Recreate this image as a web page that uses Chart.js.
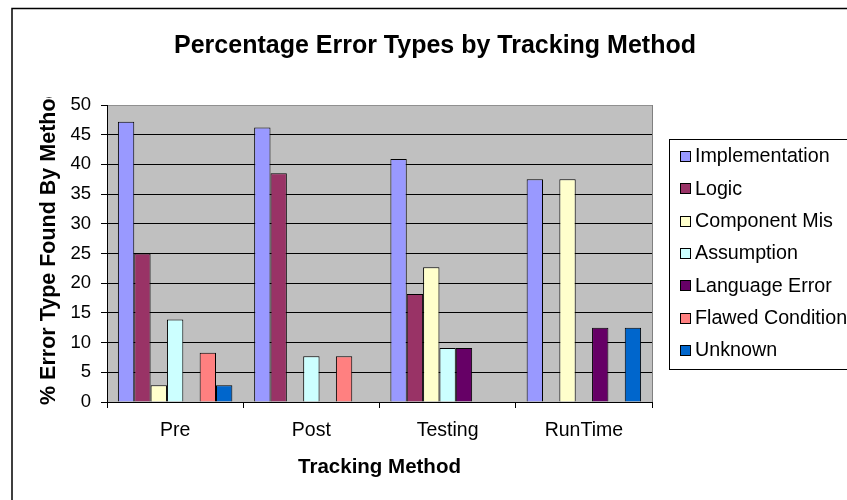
<!DOCTYPE html>
<html><head><meta charset="utf-8">
<script src="https://cdn.jsdelivr.net/npm/chart.js@4/dist/chart.umd.min.js"></script>
<style>html,body{margin:0;padding:0;background:#fff;overflow:hidden}canvas{display:block}</style>
</head><body>
<canvas id="c" width="847" height="500"></canvas>
<script>
const chartTitle = 'Percentage Error Types by Tracking Method';
const xAxisTitle = 'Tracking Method';
const yAxisTitle = '% Error Type Found By Method';
const categories = ['Pre', 'Post', 'Testing', 'RunTime'];
const seriesNames = ['Implementation', 'Logic', 'Component Mis', 'Assumption', 'Language Error', 'Flawed Condition', 'Unknown'];
const implementation = [47.2, 46.2, 40.9, 37.5];
const logic = [25.0, 38.5, 18.2, 0];
const componentMis = [2.8, 0, 22.7, 37.5];
const assumption = [13.9, 7.7, 9.1, 0];
const languageError = [0, 0, 9.1, 12.5];
const flawedCondition = [8.3, 7.7, 0, 0];
const unknown = [2.8, 0, 0, 12.5];
const yTickMin = 0, yTickMax = 50, yTickStep = 5;
const seriesColors = ['#9999FF', '#993366', '#FFFFCC', '#CCFFFF', '#660066', '#FF8080', '#0066CC'];

const FONT = "'Liberation Sans', Arial, sans-serif";
const seriesValues = [implementation, logic, componentMis, assumption, languageError, flawedCondition, unknown];

const datasets = seriesNames.map((name, i) => ({
  label: name,
  data: seriesValues[i],
  backgroundColor: seriesColors[i],
  borderColor: '#000',
  borderWidth: 1,
  borderSkipped: 'bottom',
  categoryPercentage: 0.84,
  barPercentage: 1.0
}));

const decorPlugin = {
  id: 'decor',
  beforeDraw(chart) {
    const ctx = chart.ctx, a = chart.chartArea;
    ctx.save();
    ctx.fillStyle = '#fff';
    ctx.fillRect(0, 0, chart.width, chart.height);
    // outer frame (extends past the canvas on right and bottom)
    ctx.strokeStyle = '#000';
    ctx.lineWidth = 1.5;
    ctx.strokeRect(12, 8.5, 1000, 700);
    // plot background
    ctx.fillStyle = '#C0C0C0';
    ctx.fillRect(a.left, a.top, a.right - a.left, a.bottom - a.top);
    ctx.restore();
  },
  beforeDatasetsDraw(chart) {
    const ctx = chart.ctx, a = chart.chartArea;
    ctx.save();
    ctx.strokeStyle = '#808080';
    ctx.lineWidth = 1;
    ctx.beginPath();
    ctx.moveTo(a.right + 0.5, a.top);
    ctx.lineTo(a.right + 0.5, a.bottom);
    ctx.stroke();
    ctx.restore();
  },
  afterDraw(chart) {
    const ctx = chart.ctx;
    ctx.save();
    // title
    ctx.fillStyle = '#000';
    ctx.font = 'bold 25px ' + FONT;
    ctx.textAlign = 'center';
    ctx.textBaseline = 'middle';
    ctx.fillText(chartTitle, 435, 46);
    // y-axis title (clipped like the original)
    ctx.save();
    ctx.beginPath();
    ctx.rect(0, 97, 107, 400);
    ctx.clip();
    ctx.translate(55, 405);
    ctx.rotate(-Math.PI / 2);
    ctx.font = 'bold 21.5px ' + FONT;
    ctx.textAlign = 'left';
    ctx.textBaseline = 'alphabetic';
    ctx.fillText(yAxisTitle, 0, 0);
    ctx.restore();
    // legend
    const lx = 669, ly = 139, lh = 230;
    ctx.strokeStyle = '#000';
    ctx.lineWidth = 1;
    ctx.strokeRect(lx + 0.5, ly + 0.5, 300, lh);
    ctx.font = '19.7px ' + FONT;
    ctx.textAlign = 'left';
    ctx.textBaseline = 'middle';
    chart.data.datasets.forEach((ds, i) => {
      const cy = 156 + i * 32.3;
      ctx.fillStyle = ds.backgroundColor;
      ctx.fillRect(680, Math.round(cy - 5), 11, 11);
      ctx.strokeStyle = '#000';
      ctx.strokeRect(680.5, Math.round(cy - 5) + 0.5, 10, 10);
      ctx.fillStyle = '#000';
      ctx.fillText(ds.label, 695, cy + 1);
    });
    ctx.restore();
  }
};

new Chart(document.getElementById('c'), {
  type: 'bar',
  data: { labels: categories, datasets },
  options: {
    responsive: false,
    animation: false,
    devicePixelRatio: 1,
    layout: { padding: { left: 0, top: 105, right: 195, bottom: 0 } },
    plugins: { legend: { display: false }, title: { display: false }, tooltip: { enabled: false } },
    scales: {
      x: {
        afterFit(s) { s.height = 98; },
        grid: { display: true, drawOnChartArea: false, drawTicks: true, tickLength: 6, tickColor: '#000', offset: true },
        border: { display: true, color: '#000', width: 1 },
        ticks: { color: '#000', font: { family: FONT, size: 19.5 }, padding: 11 },
        title: { display: true, text: xAxisTitle, color: '#000', font: { family: FONT, size: 20.5, weight: 'bold' }, padding: { top: 0, bottom: 20 } }
      },
      y: {
        min: yTickMin, max: yTickMax,
        afterFit(s) { s.width = 107; },
        grid: {
          color: (c) => (c.tick && c.tick.value === yTickMax) ? '#909090' : '#000',
          lineWidth: 1, drawTicks: true, tickLength: 6, tickColor: '#000'
        },
        border: { display: true, color: '#000', width: 1 },
        ticks: { stepSize: yTickStep, color: '#000', font: { family: FONT, size: 18.5 }, padding: 10 }
      }
    }
  },
  plugins: [decorPlugin]
});
</script>
</body></html>
